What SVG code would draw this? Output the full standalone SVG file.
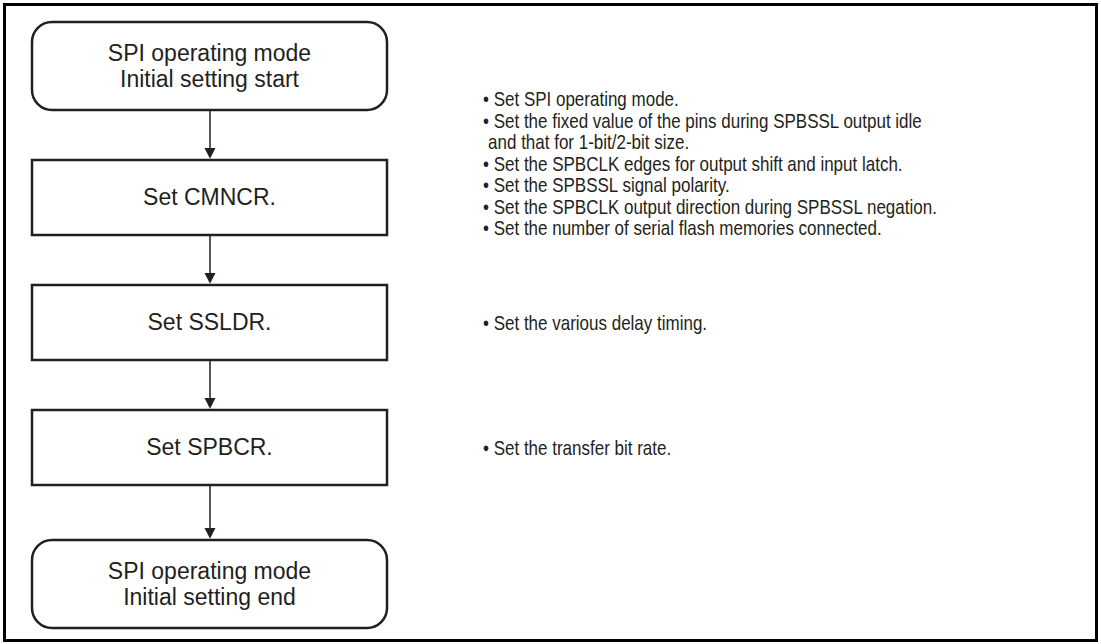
<svg xmlns="http://www.w3.org/2000/svg" width="1101" height="644" viewBox="0 0 1101 644">
<defs>
<style>
.box{fill:#fff;stroke:#231f20;stroke-width:2.5}
.lbl{font-family:"Liberation Sans",Arial,sans-serif;font-size:23px;fill:#231f20;text-anchor:middle}
.note{font-family:"Liberation Sans",Arial,sans-serif;font-size:20px;fill:#231f20}
.conn{stroke:#231f20;stroke-width:1.5;fill:none}
.head{fill:#231f20}
</style>
</defs>
<rect x="0" y="0" width="1101" height="644" fill="#fff"/>
<rect x="4.5" y="4.5" width="1092" height="636" fill="none" stroke="#000" stroke-width="3"/>
<g id="start">
<rect class="box" x="32" y="22" width="355" height="88" rx="20" ry="20"/>
<text class="lbl" x="209.5" y="61">SPI operating mode</text>
<text class="lbl" x="209.5" y="87">Initial setting start</text>
</g>
<g id="cmncr">
<rect class="box" x="32" y="160" width="355" height="75"/>
<text class="lbl" x="209.5" y="205">Set CMNCR.</text>
</g>
<g id="ssldr">
<rect class="box" x="32" y="285" width="355" height="75"/>
<text class="lbl" x="209.5" y="330">Set SSLDR.</text>
</g>
<g id="spbcr">
<rect class="box" x="32" y="410" width="355" height="75"/>
<text class="lbl" x="209.5" y="455">Set SPBCR.</text>
</g>
<g id="end">
<rect class="box" x="32" y="540" width="355" height="88" rx="20" ry="20"/>
<text class="lbl" x="209.5" y="579">SPI operating mode</text>
<text class="lbl" x="209.5" y="605">Initial setting end</text>
</g>
<g id="connectors">
<line class="conn" x1="210" y1="111" x2="210" y2="150"/>
<line class="conn" x1="210" y1="236" x2="210" y2="275"/>
<line class="conn" x1="210" y1="361" x2="210" y2="400"/>
<line class="conn" x1="210" y1="486" x2="210" y2="530"/>
<path class="head" d="M204.5,148 L215.5,148 L210,158.8 Z"/>
<path class="head" d="M204.5,273 L215.5,273 L210,283.8 Z"/>
<path class="head" d="M204.5,398 L215.5,398 L210,408.8 Z"/>
<path class="head" d="M204.5,528 L215.5,528 L210,538.8 Z"/>
</g>
<g id="notes" transform="translate(483,0) scale(0.85,1) translate(-483,0)">
<text class="note" x="483" y="106.5">• Set SPI operating mode.</text>
<text class="note" x="483" y="128">• Set the fixed value of the pins during SPBSSL output idle</text>
<text class="note" x="489" y="149.5">and that for 1-bit/2-bit size.</text>
<text class="note" x="483" y="171">• Set the SPBCLK edges for output shift and input latch.</text>
<text class="note" x="483" y="192.5">• Set the SPBSSL signal polarity.</text>
<text class="note" x="483" y="214">• Set the SPBCLK output direction during SPBSSL negation.</text>
<text class="note" x="483" y="235.5">• Set the number of serial flash memories connected.</text>
<text class="note" x="483" y="330">• Set the various delay timing.</text>
<text class="note" x="483" y="455">• Set the transfer bit rate.</text>
</g>
</svg>
